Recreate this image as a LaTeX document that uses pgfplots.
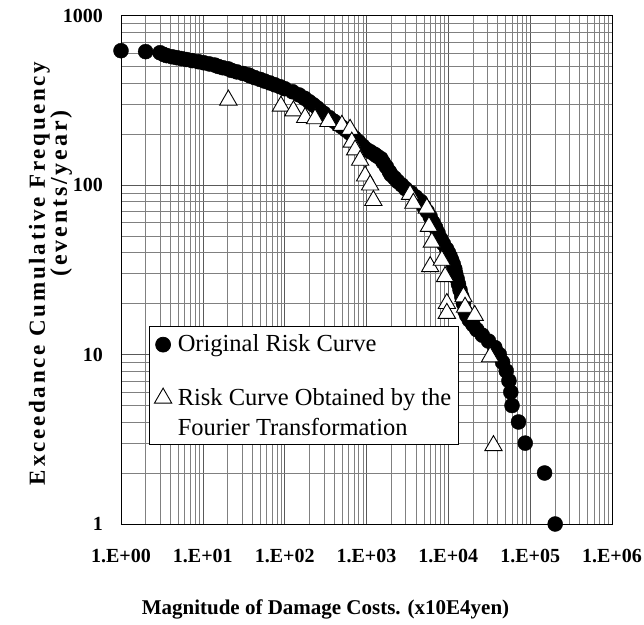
\documentclass[border=0pt]{standalone}
\usepackage{fontspec}
\setmainfont{Liberation Serif}
\newfontfamily\spacedfont[LetterSpace=12]{Liberation Serif}
\usepackage{pgfplots}
\pgfplotsset{compat=1.18}
\usepackage{pgfplotstable}

\pgfplotstableread{
x y
1 620
2 612
3 603
3.3 590
3.6 580
4.2 571
4.8 564
5.5 557
6.3 550
7.4 542
8.8 534
10.3 526
12 518
14 510
15.5 500
17.5 492
20.5 484
22.5 474
26 465
31 455
36 446
38 440
43 430
50 420
57 410
66 400
76 390
88 380
100 370
125 355
150 340
175 325
200 310
225 297
250 285
270 275
300 265
350 250
400 238
445 229
500 220
560 211
630 202
710 190
800 180
900 170
1000 162
1120 157
1250 152
1350 148
1500 143
1600 136
1750 128
1900 120
2000 115
2200 110
2400 105
2700 100
3000 95
3500 90
4000 85
4600 80
5000 75
5500 70
6000 65
6500 60
7000 56
7500 52
8100 48
8700 45
9500 42
10000 40
10500 38
11000 36
11500 34
12000 32
12300 30
12800 28
13300 26
13900 24
14600 22
15300 20
16000 18
16800 17
18000 16
20000 15
22300 14
26000 13
31000 12
37000 11
42000 10
46000 9
51000 8
55000 7
58000 6
60000 5
72000 4
87000 3
150000 2
202000 1
}\origdata

\pgfplotstableread{
x y
20.5 317
90 292
128 274
178 250
235 246
342 237
500 225
630 213
661 179
726 161
836 140
961 113
1107 100
1214 81
3410 88
3740 78
5460 73
5800 57
6290 46
6000 33
8330 36
9140 28.8
9590 20
9590 17.5
15300 21.9
16000 19
21000 17
32400 9.7
35600 2.9
}\fourierdata

\begin{document}
\begin{tikzpicture}
\path[use as bounding box] (-121pt,-100pt) rectangle (523pt,524pt);
\begin{axis}[
  at={(0pt,0pt)}, anchor=south west,
  width=491pt, height=508.5pt, scale only axis,
  xmode=log, ymode=log,
  xmin=1, xmax=1e6, ymin=1, ymax=1000,
  xtick={1,10,100,1000,10000,100000,1000000},
  xticklabels={1.E+00,1.E+01,1.E+02,1.E+03,1.E+04,1.E+05,1.E+06},
  ytick={1,10,100,1000},
  yticklabels={1,10,100,1000},
  major tick length=0pt, minor tick length=0pt,
  grid=both,
  major grid style={black!65, line width=0.45pt},
  minor grid style={black!50, line width=0.4pt},
  axis line style={black, line width=0.7pt},
  clip=false,
  xticklabel style={font=\fontsize{20}{24}\selectfont\bfseries, anchor=base, yshift=-38.5pt},
  yticklabel style={font=\fontsize{20}{24}\selectfont\bfseries, anchor=east, inner sep=0pt, xshift=-18pt},
  xlabel={Magnitude of Damage Costs. (x10E4yen)},
  xlabel style={font=\fontsize{21}{25}\selectfont\bfseries, at={(axis description cs:0.4165,0)}, anchor=base, yshift=-90pt},
  ylabel={Exceedance Cumulative Frequency},
  ylabel style={font=\spacedfont\fontsize{23}{22}\selectfont\bfseries, at={(axis description cs:-0.1548,0.4926)}, anchor=base, inner sep=0pt},
  extra description/.code={
    \node[rotate=90, anchor=base west, inner sep=0pt, font=\spacedfont\fontsize{24}{24}\selectfont\bfseries]
      at (axis description cs:-0.110,0.4857) {(events/year)};
  },
  legend style={at={(axis description cs:0.0562,0.1554)}, anchor=south west,
    draw=black, line width=0.7pt, fill=white,
    font=\fontsize{24.5}{30}\selectfont,
    row sep=31pt, inner xsep=5.5pt, inner ysep=6pt,
    /tikz/every odd column/.append style={column sep=4pt},
    cells={anchor=base west, align=left, inner xsep=1pt}},
]
\addplot[only marks, mark=*, mark size=7.5pt, black, legend image post style={yshift=7pt}] table[x=x, y=y] {\origdata};
\addlegendentry{Original Risk Curve}
\addplot[only marks, mark=triangle*, mark size=10pt, mark options={fill=white, draw=black, line width=0.9pt}, legend image post style={yshift=37pt}] table[x=x, y=y] {\fourierdata};
\addlegendentry{Risk Curve Obtained by the\\Fourier Transformation}
\end{axis}
\end{tikzpicture}
\end{document}
